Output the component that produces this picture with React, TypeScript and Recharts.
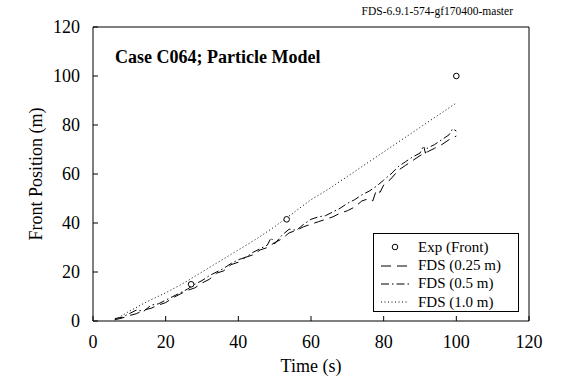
import React from "react";
import { ComposedChart, Line, Scatter, XAxis, YAxis } from "recharts";

const xTicks = [0, 20, 40, 60, 80, 100, 120];
const yTicks = [0, 20, 40, 60, 80, 100, 120];

// experiment (front)
const expTime = [27, 53.3, 100];
const expFront = [15, 41.5, 100];

// FDS 0.25 m
const t025 = [6, 8, 10, 12, 14, 16, 18, 20, 22, 24, 26, 28, 30, 32, 34, 36, 38, 40, 42, 44, 46, 48, 50, 52, 54, 56, 58, 60, 62, 64, 66, 68, 70, 72, 74, 76, 77, 78, 79, 80, 82, 84, 86, 88, 90, 92, 94, 96, 98, 100];
const x025 = [0.5, 1.2, 2.2, 3.0, 4.5, 5.2, 6.5, 7.5, 9.5, 11.0, 12.5, 13.5, 15.5, 17.0, 19.5, 20.5, 23.0, 24.0, 26.0, 27.0, 29.0, 30.0, 32.0, 33.5, 36.0, 37.0, 38.5, 39.5, 40.5, 41.5, 42.5, 44.0, 45.0, 46.5, 49.0, 50.0, 49.0, 53.5, 52.5, 55.5, 58.0, 61.5, 63.5, 65.5, 67.5, 69.0, 70.5, 72.0, 74.0, 75.5];

// FDS 0.5 m
const t05 = [6, 8, 10, 12, 14, 16, 18, 20, 22, 24, 26, 28, 30, 32, 34, 36, 38, 40, 42, 44, 46, 48, 49, 50, 52, 54, 56, 58, 60, 62, 64, 66, 68, 70, 72, 74, 76, 78, 80, 82, 84, 86, 88, 90, 91, 91.5, 92, 94, 96, 98, 99, 100];
const x05 = [1.0, 1.5, 3.0, 4.5, 4.0, 6.5, 7.0, 8.5, 10.0, 11.5, 13.0, 15.0, 16.5, 18.5, 20.0, 21.5, 23.5, 25.0, 26.0, 28.0, 29.5, 31.0, 34.0, 31.5, 35.0, 37.5, 37.0, 39.5, 41.5, 42.5, 43.0, 44.5, 46.0, 48.0, 49.5, 51.5, 53.0, 55.0, 57.5, 60.0, 63.0, 65.0, 67.0, 68.5, 71.5, 68.5, 70.5, 72.0, 74.0, 76.0, 78.5, 77.5];

// FDS 1.0 m
const t10 = [6, 10, 15, 20, 25, 30, 35, 40, 45, 50, 55, 60, 65, 70, 75, 80, 85, 90, 95, 100];
const x10 = [0.5, 4.0, 8.0, 11.5, 15.5, 20.0, 24.5, 29.0, 33.5, 38.5, 44.0, 49.5, 54.0, 59.0, 64.0, 69.0, 74.0, 79.0, 84.0, 89.0];

const toRows = (ts: number[], xs: number[]) => ts.map((t, i) => ({ t, x: xs[i] }));

const expData = toRows(expTime, expFront);
const d025 = toRows(t025, x025);
const d05 = toRows(t05, x05);
const d10 = toRows(t10, x10);

const font = "'Liberation Serif', 'Times New Roman', serif";
const tickStyle = { fill: "#000", fontSize: 18, fontFamily: font };

const Circle = (props: any) => (
  <circle cx={props.cx} cy={props.cy} r={2.8} fill="#fff" stroke="#000" strokeWidth={1} />
);

const legendRows = [
  { name: "Exp (Front)", dash: "" },
  { name: "FDS (0.25 m)", dash: "10 6" },
  { name: "FDS (0.5 m)", dash: "8 3 1.5 3" },
  { name: "FDS (1.0 m)", dash: "1 2.5" },
];

export default function App() {
  return (
    <div style={{ position: "absolute", left: 0, top: 0, width: 570, height: 377, background: "#fff", fontFamily: font }}>
      <ComposedChart width={570} height={377} margin={{ top: 26, right: 40, bottom: 16, left: 53 }}>
        <XAxis
          xAxisId="b"
          type="number"
          dataKey="t"
          domain={[0, 120]}
          ticks={xTicks}
          height={40}
          tickSize={-5}
          tickMargin={19}
          tick={tickStyle}
          axisLine={{ stroke: "#000" }}
          tickLine={{ stroke: "#000" }}
          allowDataOverflow
        />
        <XAxis
          xAxisId="t"
          orientation="top"
          type="number"
          domain={[0, 120]}
          ticks={xTicks}
          height={1}
          tickSize={-5}
          tick={false}
          axisLine={{ stroke: "#000" }}
          tickLine={{ stroke: "#000" }}
        />
        <YAxis
          yAxisId="l"
          type="number"
          domain={[0, 120]}
          ticks={yTicks}
          width={40}
          tickSize={-5}
          tickMargin={18}
          tick={tickStyle}
          axisLine={{ stroke: "#000" }}
          tickLine={{ stroke: "#000" }}
          allowDataOverflow
        />
        <YAxis
          yAxisId="r"
          orientation="right"
          type="number"
          domain={[0, 120]}
          ticks={yTicks}
          width={1}
          tickSize={-5}
          tick={false}
          axisLine={{ stroke: "#000" }}
          tickLine={{ stroke: "#000" }}
        />
        <Line xAxisId="b" yAxisId="l" data={d10} dataKey="x" type="linear" stroke="#000" strokeWidth={1} strokeDasharray="1 2.5" dot={false} isAnimationActive={false} />
        <Line xAxisId="b" yAxisId="l" data={d05} dataKey="x" type="linear" stroke="#000" strokeWidth={1} strokeDasharray="8 3 1.5 3" dot={false} isAnimationActive={false} />
        <Line xAxisId="b" yAxisId="l" data={d025} dataKey="x" type="linear" stroke="#000" strokeWidth={1} strokeDasharray="10 6" dot={false} isAnimationActive={false} />
        <Scatter xAxisId="b" yAxisId="l" data={expData} dataKey="x" shape={Circle} isAnimationActive={false} />
      </ComposedChart>

      <div style={{ position: "absolute", right: 57, top: 5, fontSize: 11.5, lineHeight: "12px", whiteSpace: "nowrap" }}>
        FDS-6.9.1-574-gf170400-master
      </div>
      <div style={{ position: "absolute", left: 115, top: 48, fontSize: 18, fontWeight: "bold", lineHeight: "18px", whiteSpace: "nowrap" }}>
        Case C064; Particle Model
      </div>
      <div
        style={{
          position: "absolute",
          left: 311,
          top: 357,
          transform: "translateX(-50%)",
          fontSize: 18,
          lineHeight: "18px",
          whiteSpace: "nowrap",
        }}
      >
        Time (s)
      </div>
      <div
        style={{
          position: "absolute",
          left: 36,
          top: 174,
          transform: "translate(-50%, -50%) rotate(-90deg)",
          fontSize: 18,
          lineHeight: "18px",
          whiteSpace: "nowrap",
        }}
      >
        Front Position (m)
      </div>
      <div
        style={{
          position: "absolute",
          left: 373,
          top: 233,
          width: 146,
          height: 79,
          border: "1px solid #000",
          boxSizing: "border-box",
          background: "#fff",
          paddingTop: 4,
        }}
      >
        {legendRows.map((r, i) => (
          <div key={i} style={{ display: "flex", alignItems: "center", height: 18.4, fontSize: 15 }}>
            <svg width={30} height={10} style={{ marginLeft: 6, marginRight: 8 }}>
              {r.dash === "" ? (
                <circle cx={15} cy={5} r={2.8} fill="#fff" stroke="#000" strokeWidth={1} />
              ) : (
                <line x1={1} y1={5} x2={29} y2={5} stroke="#000" strokeWidth={1} strokeDasharray={r.dash} />
              )}
            </svg>
            <span style={{ whiteSpace: "nowrap" }}>{r.name}</span>
          </div>
        ))}
      </div>
    </div>
  );
}
